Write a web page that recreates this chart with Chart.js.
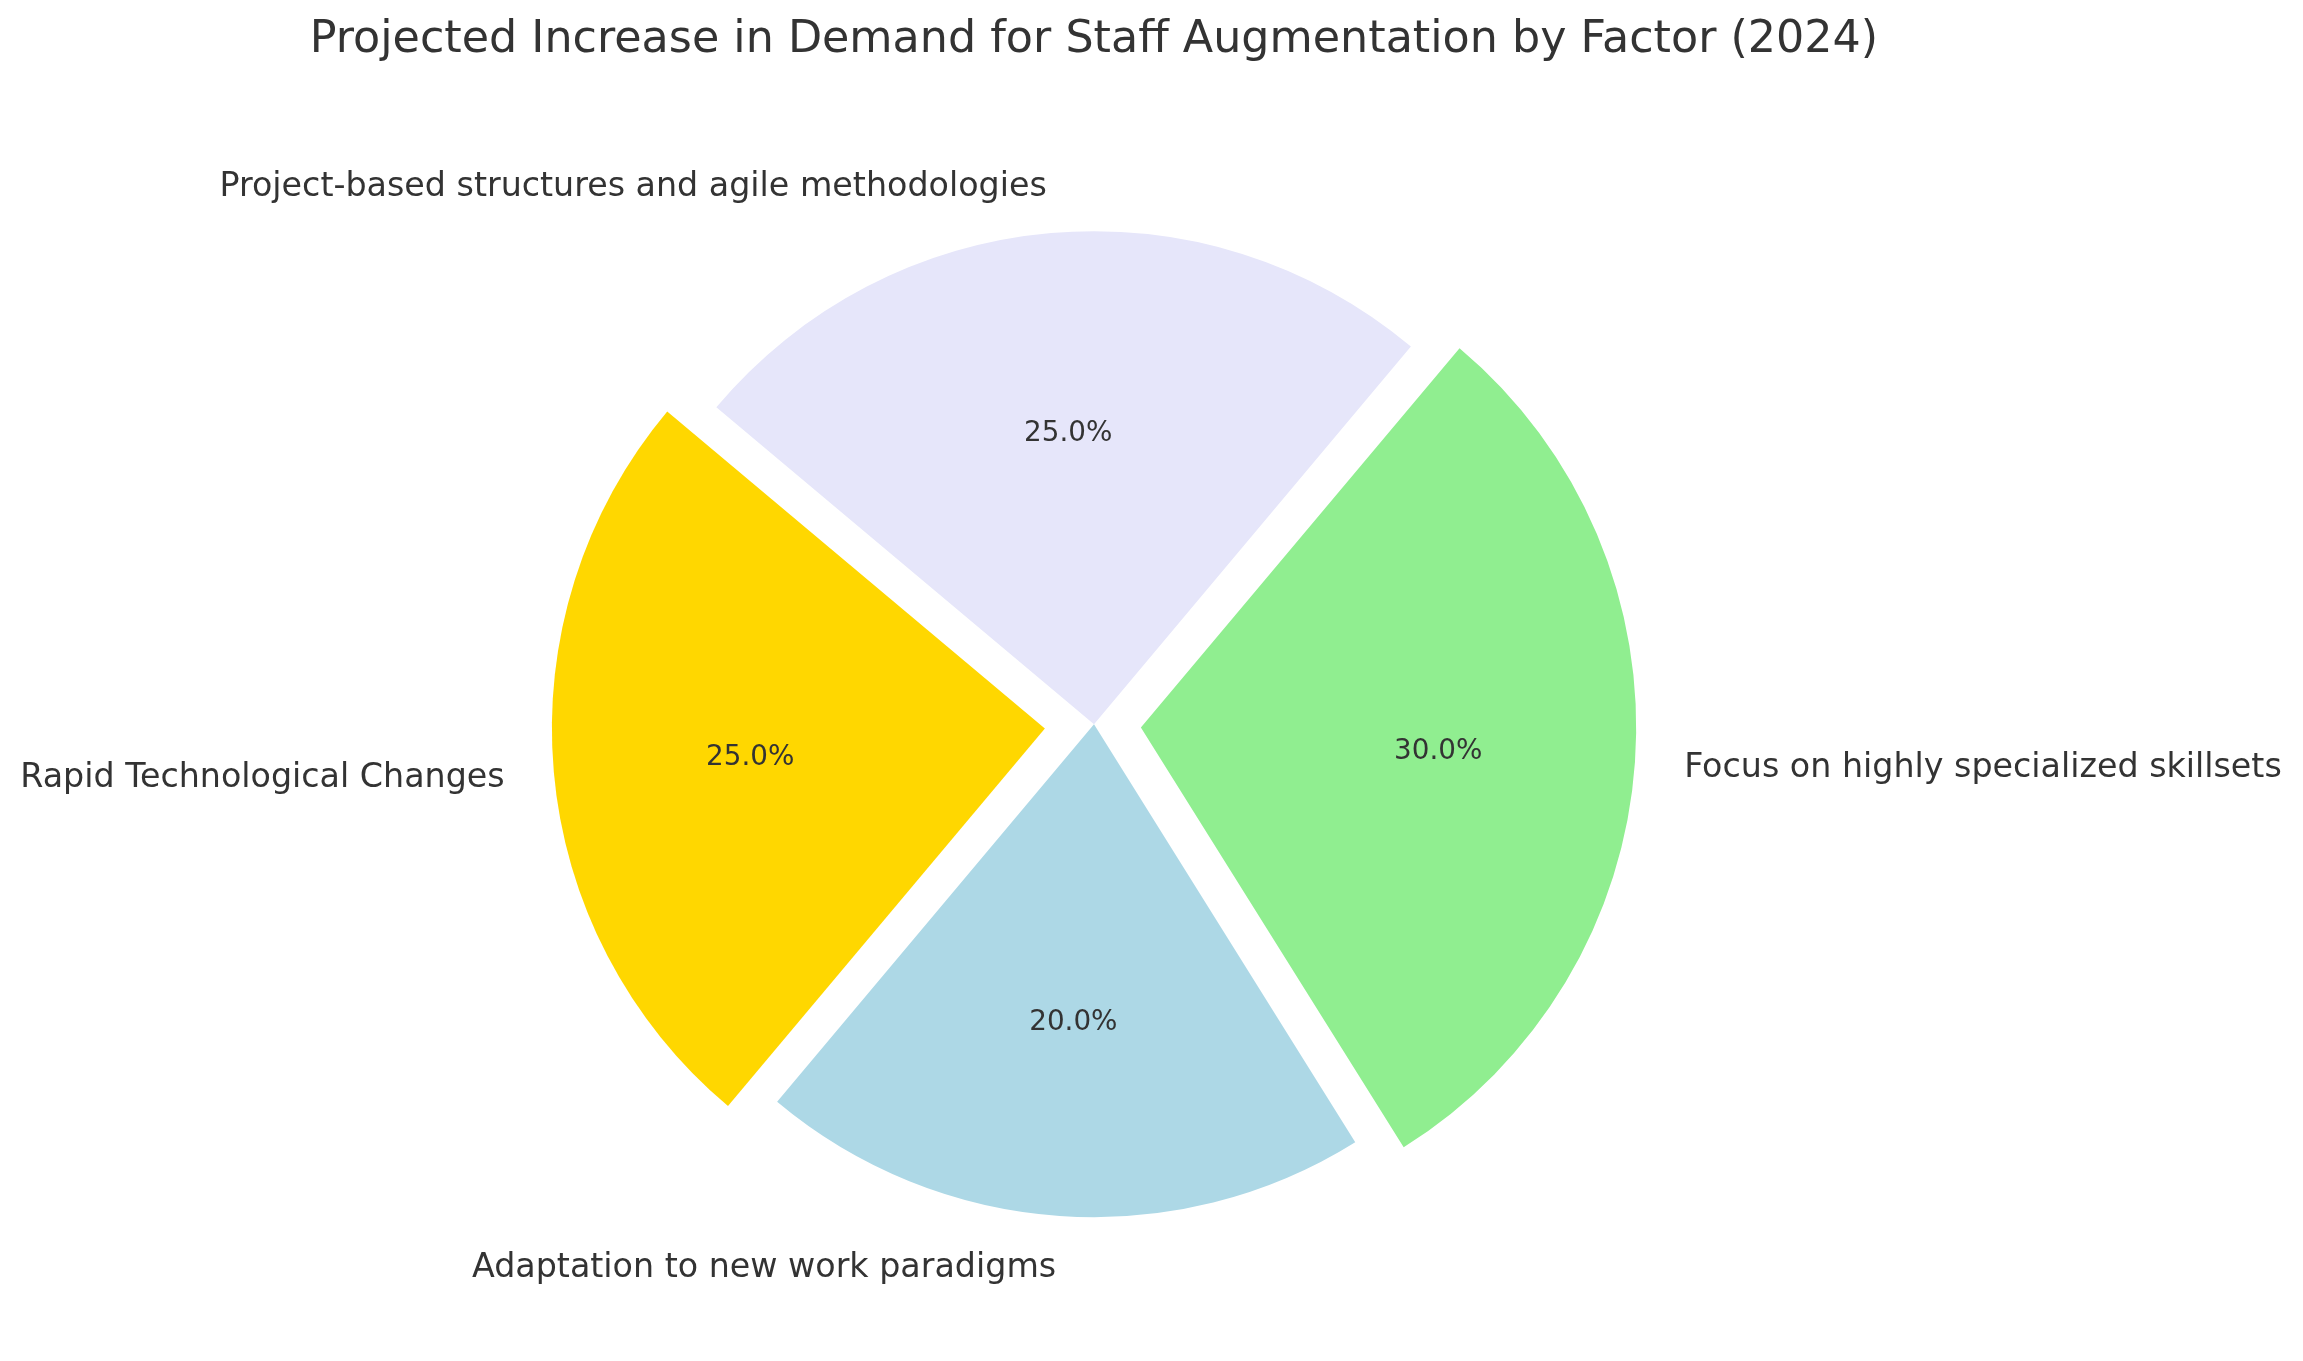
<!DOCTYPE html>
<html>
<head>
<meta charset="utf-8">
<title>Staff Augmentation Demand 2024</title>
<script src="https://cdn.jsdelivr.net/npm/chart.js@4"></script>
<style>
  html, body { margin: 0; padding: 0; background: #ffffff; }
  #pie { display: block; }
</style>
</head>
<body>
<canvas id="pie" width="2303" height="1361"></canvas>
<script>
// data (clockwise from the upper-left edge)
var factors = [
    "Project-based structures and agile methodologies",
    "Focus on highly specialized skillsets",
    "Adaptation to new work paradigms",
    "Rapid Technological Changes"
];
var shares = [25, 30, 20, 25];
var explode = [0, 0.1, 0, 0.1];
var colors = ["#E6E6FA", "#90EE90", "#ADD8E6", "#FFD700"];

var RADIUS = 493;
var textColor = "#333333";
var fontFamily = "'DejaVu Sans', 'Liberation Sans', sans-serif";

// chart.js moves an arc by offset/4 * (1 + fix), so turn the explode fraction into that offset
function arcOffsets() {
    var total = shares.reduce(function(a, b) { return a + b; }, 0);
    return shares.map(function(v, i) {
        var circ = v / total * 2 * Math.PI;
        var fix = 1 - Math.sin(Math.min(Math.PI, circ));
        return explode[i] * RADIUS * 4 / (1 + fix);
    });
}

// matplotlib style labels: outside at 1.1 r, percentages at 0.6 r
var pieLabels = {
    id: 'pieLabels',
    afterDatasetsDraw: function(chart) {
        var ctx = chart.ctx;
        var meta = chart.getDatasetMeta(0);
        var total = shares.reduce(function(a, b) { return a + b; }, 0);
        ctx.save();
        ctx.fillStyle = textColor;
        ctx.textBaseline = 'middle';
        meta.data.forEach(function(arc, i) {
            var mid = (arc.startAngle + arc.endAngle) / 2;
            var r = arc.outerRadius;
            var shift = explode[i] * r;
            var cx = Math.cos(mid), cy = Math.sin(mid);

            ctx.font = "33.3px " + fontFamily;
            ctx.textAlign = cx > 0 ? 'left' : 'right';
            ctx.fillText(factors[i], arc.x + cx * (shift + 1.1 * r), arc.y + cy * (shift + 1.1 * r) + 3);

            ctx.font = "27.8px " + fontFamily;
            ctx.textAlign = 'center';
            var pct = (shares[i] / total * 100).toFixed(1) + '%';
            ctx.fillText(pct, arc.x + cx * (shift + 0.6 * r), arc.y + cy * (shift + 0.6 * r) + 4);
        });
        ctx.restore();
    }
};

var pie = new Chart(document.getElementById("pie").getContext('2d'), {
    type: 'pie',
    data: {
        labels: factors,
        datasets: [{
            data: shares,
            backgroundColor: colors,
            borderWidth: 0,
            offset: arcOffsets()
        }]
    },
    options: {
        responsive: false,
        devicePixelRatio: 1,
        animation: false,
        rotation: -50,
        radius: RADIUS,
        layout: { padding: { left: 0, right: 115, top: 0, bottom: 2 } },
        plugins: {
            legend: { display: false },
            tooltip: { enabled: false },
            title: {
                display: true,
                text: "Projected Increase in Demand for Staff Augmentation by Factor (2024)",
                color: textColor,
                font: { family: fontFamily, size: 44.4, weight: 'normal' },
                padding: { top: 14, bottom: 22 }
            }
        }
    },
    plugins: [pieLabels]
});
</script>
</body>
</html>
